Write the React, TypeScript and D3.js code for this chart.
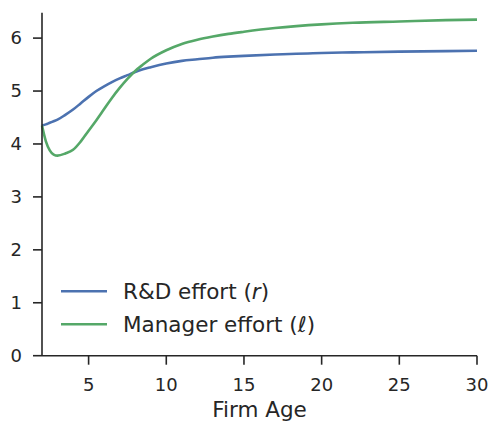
import React from "react";
import * as d3 from "d3";

const ages = [2, 2.25, 2.5, 2.75, 3, 3.5, 4, 4.5, 5, 5.5, 6, 6.5, 7, 7.5, 8, 8.5, 9, 10, 11, 12, 13, 14, 15, 17, 20, 22, 25, 28, 30];
const rdEffort = [4.35, 4.37, 4.4, 4.43, 4.46, 4.55, 4.65, 4.77, 4.89, 5.0, 5.09, 5.17, 5.24, 5.3, 5.36, 5.41, 5.45, 5.52, 5.57, 5.6, 5.63, 5.65, 5.665, 5.69, 5.72, 5.73, 5.745, 5.755, 5.76];
const managerEffort = [4.35, 4.05, 3.88, 3.8, 3.78, 3.82, 3.89, 4.05, 4.25, 4.45, 4.66, 4.87, 5.06, 5.23, 5.38, 5.5, 5.61, 5.77, 5.89, 5.97, 6.03, 6.08, 6.12, 6.19, 6.26, 6.29, 6.315, 6.34, 6.35];
const xTicks = [5, 10, 15, 20, 25, 30];
const yTicks = [0, 1, 2, 3, 4, 5, 6];

const W = 492, H = 421;
const left = 42, right = 477, top = 12.7, bottom = 355.7;
const ink = "#262626";
const font = "DejaVu Sans, sans-serif";

export default function App() {
  const x = d3.scaleLinear().domain([2, 30]).range([left, right]);
  const y = d3.scaleLinear().domain([0, 6.48]).range([bottom, top]);
  const line = (vals: number[]) =>
    d3.line<number>().x((_, i) => x(ages[i])).y((d) => y(d)).curve(d3.curveMonotoneX)(vals) || "";
  const series = [
    { vals: rdEffort, color: "#4C72B0", label: "R&D effort (", sym: "r" },
    { vals: managerEffort, color: "#55A868", label: "Manager effort (", sym: "ℓ" },
  ];
  return (
    <svg width={W} height={H} style={{ position: "absolute", left: 0, top: 0, background: "#fff" }} fontFamily={font}>
      <rect width={W} height={H} fill="#fff" />
      {series.map((s, i) => (
        <path key={i} d={line(s.vals)} fill="none" stroke={s.color} strokeWidth={2.6} strokeLinejoin="round" strokeLinecap="butt" />
      ))}
      <line x1={left} x2={left} y1={top} y2={bottom} stroke={ink} strokeWidth={1.6} />
      <line x1={left} x2={right} y1={bottom} y2={bottom} stroke={ink} strokeWidth={1.6} />
      {yTicks.map((t) => (
        <g key={"y" + t}>
          <line x1={left - 9} x2={left} y1={y(t)} y2={y(t)} stroke={ink} strokeWidth={1.6} />
          <text x={left - 20} y={y(t)} dy="0.35em" textAnchor="end" fontSize={18} fill={ink}>{t}</text>
        </g>
      ))}
      {xTicks.map((t) => (
        <g key={"x" + t}>
          <line x1={x(t)} x2={x(t)} y1={bottom} y2={bottom + 9} stroke={ink} strokeWidth={1.6} />
          <text x={x(t)} y={bottom + 35} textAnchor="middle" fontSize={18} fill={ink}>{t}</text>
        </g>
      ))}
      <text x={(left + right) / 2} y={416.5} textAnchor="middle" fontSize={21.5} fill={ink}>Firm Age</text>
      {series.map((s, i) => (
        <g key={"l" + i}>
          <line x1={61} x2={107} y1={291.3 + i * 33} y2={291.3 + i * 33} stroke={s.color} strokeWidth={2.6} />
          <text x={123} y={299 + i * 33} fontSize={21.5} fill={ink}>
            {s.label}
            <tspan fontStyle="italic">{s.sym}</tspan>)
          </text>
        </g>
      ))}
    </svg>
  );
}
